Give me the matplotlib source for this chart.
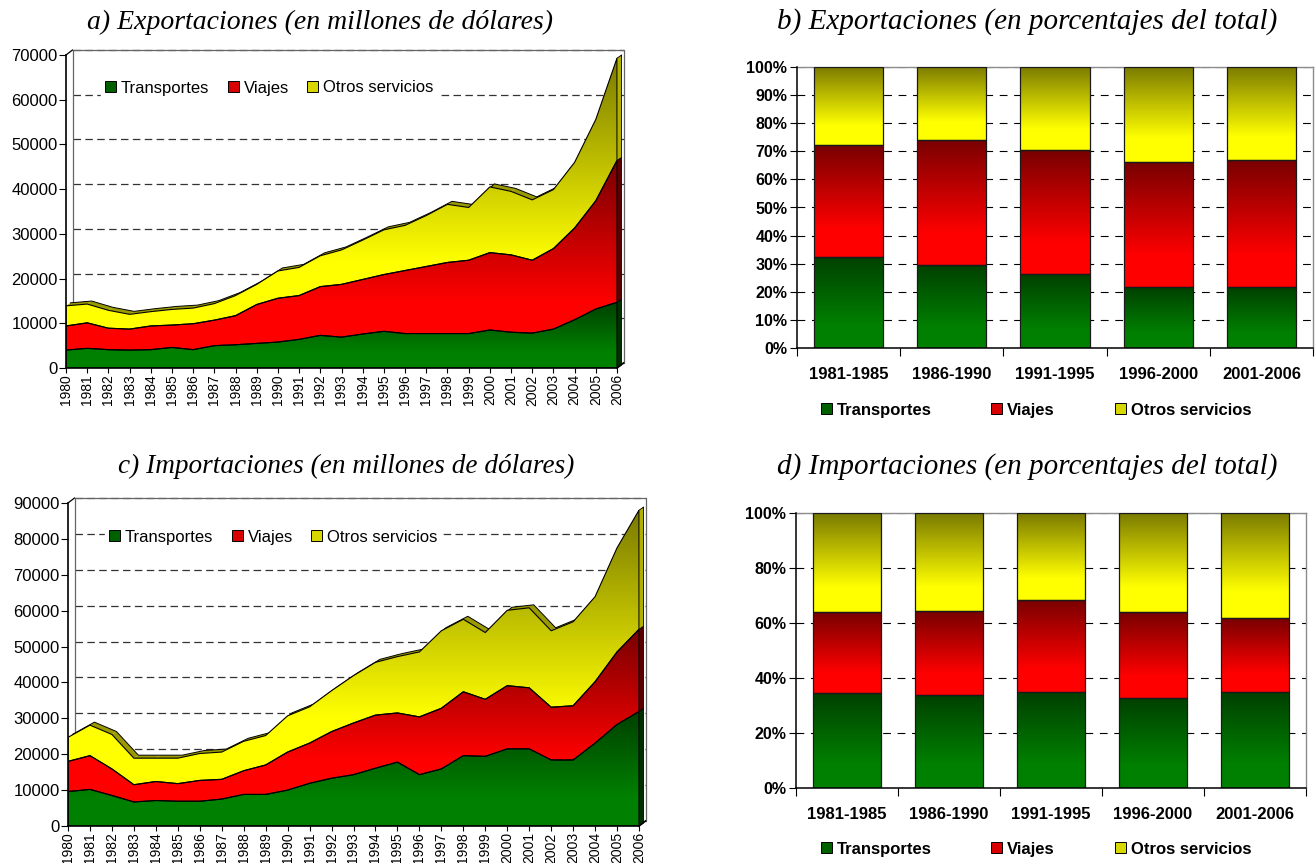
import numpy as np
import matplotlib
matplotlib.use('Agg')
import matplotlib.pyplot as plt
from matplotlib.colors import LinearSegmentedColormap
from matplotlib.patches import Polygon, Patch

plt.rcParams['font.family'] = ['Liberation Sans', 'DejaVu Sans']

# ---- datos ----
years = list(range(1980, 2007))

exp_transportes = [4000, 4400, 4100, 4000, 4100, 4600, 4100, 5000, 5200, 5500, 5800, 6400, 7300, 6900,
                   7600, 8200, 7700, 7700, 7700, 7700, 8500, 8000, 7800, 8700, 10800, 13200, 14700]
exp_viajes = [5400, 5700, 4800, 4700, 5300, 5000, 5800, 5700, 6500, 8700, 9800, 9800, 10900, 11800,
              12200, 12700, 14100, 15000, 15900, 16400, 17300, 17300, 16300, 18000, 20500, 24200, 31700]
exp_otros = [4500, 4200, 4000, 3300, 3200, 3500, 3500, 3700, 4500, 4500, 6100, 6300, 6900, 7700,
             8800, 10000, 10100, 11400, 13000, 11800, 14700, 14200, 13500, 13200, 14700, 18200, 22900]

imp_transportes = [9600, 10200, 8500, 6700, 7100, 6900, 6900, 7500, 8800, 8800, 10000, 11900, 13300, 14300,
                   16100, 17800, 14300, 15900, 19600, 19400, 21500, 21500, 18400, 18400, 23100, 28300, 31900]
imp_viajes = [8400, 9400, 7400, 4800, 5300, 4900, 5800, 5500, 6600, 8200, 10600, 11200, 13000, 14400,
              14800, 13700, 16100, 16900, 17800, 15900, 17600, 17000, 14700, 15100, 17100, 20200, 22900]
imp_otros = [6700, 8500, 9600, 7400, 6500, 7100, 7500, 7600, 8200, 8200, 10100, 10100, 11400, 13200,
             14700, 15700, 18100, 21600, 20200, 18600, 21000, 22300, 21300, 23400, 23700, 29000, 33200]

periodos = ['1981-1985', '1986-1990', '1991-1995', '1996-2000', '2001-2006']
exp_pct_transportes = [32.4, 29.4, 26.3, 21.7, 21.7]
exp_pct_viajes = [39.8, 44.5, 44.0, 44.4, 45.1]
exp_pct_otros = [27.8, 26.1, 29.7, 33.9, 33.2]
imp_pct_transportes = [34.7, 33.9, 34.9, 32.7, 34.9]
imp_pct_viajes = [29.4, 30.5, 33.6, 31.2, 26.9]
imp_pct_otros = [35.9, 35.6, 31.5, 36.1, 38.2]

series = ['Transportes', 'Viajes', 'Otros servicios']

# ---- estilos ----
W, H = 1315, 863
fig = plt.figure(figsize=(W / 100, H / 100), dpi=100)

cm_t = LinearSegmentedColormap.from_list('t', [(0, '#008000'), (0.25, '#008000'), (1, '#004000')])
cm_v = LinearSegmentedColormap.from_list('v', [(0, '#ff0000'), (0.25, '#ff0000'), (1, '#780000')])
cm_o = LinearSegmentedColormap.from_list('o', [(0, '#ffff00'), (0.25, '#ffff00'), (1, '#7a7a00')])
cmaps = [cm_t, cm_v, cm_o]
side_cols = ['#003000', '#5a0000', '#b0b000']
legend_cols = ['#006000', '#d80000', '#d8d800']
grad = np.linspace(0, 1, 256).reshape(-1, 1)


def px_axes(l, t, r, b):
    return fig.add_axes([l / W, 1 - b / H, (r - l) / W, (b - t) / H])


def title(x, y, s, size):
    fig.text(x / W, 1 - y / H, s, ha='center', va='center', family='Liberation Serif',
             style='italic', size=size)


def legend_handles():
    return [Patch(fc=c, ec='black', lw=0.7, label=s) for c, s in zip(legend_cols, series)]


def area_3d(ax, data, ymax, step, leg_xy):
    x = np.array(years, dtype=float)
    ax.set_xlim(x[0], x[-1])
    ax.set_ylim(0, ymax)
    bb = ax.get_window_extent()
    sx = (x[-1] - x[0]) / bb.width
    sy = ymax / bb.height
    wx, wy = 6.5 * sx, 5 * sy      # fondo del "3D"
    dx, dy = 4.5 * sx, 3 * sy      # profundidad de las areas

    # pared del fondo y rejilla
    for v in np.arange(step, ymax + 1, step):
        ax.plot([x[0] + wx, x[-1] + wx], [v + wy, v + wy], color='#333333', lw=0.9,
                ls=(0, (6, 3.5)), zorder=1, clip_on=False)
    ax.plot([x[0] + wx, x[0] + wx, x[-1] + wx, x[-1] + wx, x[0] + wx],
            [wy, ymax + wy, ymax + wy, wy, wy], color='#666666', lw=0.9, zorder=1, clip_on=False)
    ax.plot([x[0], x[0] + wx], [ymax, ymax + wy], color='black', lw=0.9, zorder=1, clip_on=False)
    ax.plot([x[-1], x[-1] + wx], [0, wy], color='black', lw=1.2, zorder=5, clip_on=False)

    lo = np.zeros(len(x))
    for vals, cm, sc in zip(data, cmaps, side_cols):
        hi = lo + np.array(vals)
        verts = np.column_stack([np.r_[x, x[::-1]], np.r_[hi, lo[::-1]]])
        poly = Polygon(verts, closed=True, fc='none', ec='black', lw=0.8, zorder=4)
        ax.add_patch(poly)
        im = ax.imshow(grad, cmap=cm, extent=[x[0], x[-1], lo.min(), hi.max()], origin='lower',
                       aspect='auto', zorder=3, interpolation='bilinear')
        im.set_clip_path(poly)
        side = Polygon([[x[-1], lo[-1]], [x[-1], hi[-1]], [x[-1] + dx, hi[-1] + dy], [x[-1] + dx, lo[-1] + dy]],
                       closed=True, fc=sc, ec='black', lw=0.6, zorder=2.5, clip_on=False)
        ax.add_patch(side)
        lo = hi

    # cara superior de la serie total
    for i in range(len(x) - 1):
        q = Polygon([[x[i], lo[i]], [x[i + 1], lo[i + 1]], [x[i + 1] + dx, lo[i + 1] + dy], [x[i] + dx, lo[i] + dy]],
                    closed=True, fc='#9a9a00', ec='none', zorder=2, clip_on=False)
        ax.add_patch(q)
    ax.plot(x + dx, lo + dy, color='black', lw=0.7, zorder=2.2, clip_on=False)

    ax.set_xlim(x[0], x[-1])
    ax.set_ylim(0, ymax)
    ax.set_yticks(np.arange(0, ymax + 1, step))
    ax.set_yticklabels([str(int(v)) for v in np.arange(0, ymax + 1, step)])
    ax.set_xticks(years)
    ax.set_xticklabels([str(y) for y in years], rotation=90)
    ax.tick_params(axis='y', direction='out', length=5, width=0.8, labelsize=12, pad=1)
    ax.tick_params(axis='x', direction='out', length=3.5, width=0.8, labelsize=10, pad=1)
    for s in ['top', 'right']:
        ax.spines[s].set_visible(False)
    for s in ['left', 'bottom']:
        ax.spines[s].set_linewidth(1.2)
        ax.spines[s].set_zorder(5)

    leg = ax.legend(handles=legend_handles(), ncol=3, loc='center left',
                    bbox_to_anchor=(leg_xy[0] / W, 1 - leg_xy[1] / H), bbox_transform=fig.transFigure,
                    fontsize=12, handlelength=0.65, handleheight=0.65, handletextpad=0.3,
                    columnspacing=1.1, borderpad=0.25, borderaxespad=0, frameon=True,
                    fancybox=False, framealpha=1, facecolor='white', edgecolor='white')
    leg.set_zorder(10)


def bars_pct(ax, data, step, leg_xy):
    idx = np.arange(len(periodos))
    ax.set_xlim(-0.5, len(periodos) - 0.5)
    ax.set_ylim(0, 100)
    bottom = np.zeros(len(periodos))
    for vals, cm in zip(data, cmaps):
        bc = ax.bar(idx, vals, 0.67, bottom=bottom, fc='none', ec='#1a1a1a', lw=0.9, zorder=4)
        for r in bc.patches:
            ax.imshow(grad, cmap=cm, extent=[r.get_x(), r.get_x() + r.get_width(), r.get_y(),
                                             r.get_y() + r.get_height()],
                      origin='lower', aspect='auto', zorder=3, interpolation='bilinear')
        bottom = bottom + np.array(vals)
    ax.set_xlim(-0.5, len(periodos) - 0.5)
    ax.set_ylim(0, 100)
    ax.set_yticks(np.arange(0, 101, step))
    ax.set_yticklabels(['%d%%' % v for v in np.arange(0, 101, step)], fontweight='bold')
    ax.yaxis.grid(True, ls=(0, (7, 6)), color='black', lw=0.8)
    ax.set_axisbelow(True)
    ax.set_xticks(idx)
    ax.set_xticklabels(periodos, fontweight='bold')
    ax.set_xticks(np.arange(-0.5, len(periodos)), minor=True)
    ax.tick_params(axis='x', which='major', length=0, labelsize=12, pad=14)
    ax.tick_params(axis='x', which='minor', length=6, width=0.8, direction='out')
    ax.tick_params(axis='y', length=5, width=0.8, direction='out', labelsize=11.5, pad=2)
    for s in ['top', 'right']:
        ax.spines[s].set_color('#8c8c8c')
        ax.spines[s].set_linewidth(1)
    for s in ['left', 'bottom']:
        ax.spines[s].set_linewidth(1.1)
        ax.spines[s].set_zorder(5)
    fig.legend(handles=legend_handles(), ncol=3, loc='center',
               bbox_to_anchor=(leg_xy[0] / W, 1 - leg_xy[1] / H), frameon=False,
               prop={'weight': 'bold', 'size': 12}, handlelength=0.65, handleheight=0.65,
               handletextpad=0.3, columnspacing=3.6)


ax_a = px_axes(66, 55, 617, 368)
area_3d(ax_a, [exp_transportes, exp_viajes, exp_otros], 70000, 10000, (101, 88))
title(320, 22, 'a) Exportaciones (en millones de dólares)', 20)

ax_b = px_axes(797, 67, 1313, 348)
bars_pct(ax_b, [exp_pct_transportes, exp_pct_viajes, exp_pct_otros], 10, (1036, 410))
title(1027, 22, 'b) Exportaciones (en porcentajes del total)', 21)

ax_c = px_axes(68, 503, 639, 826)
area_3d(ax_c, [imp_transportes, imp_viajes, imp_otros], 90000, 10000, (105, 537))
title(346, 466, 'c) Importaciones (en millones de dólares)', 19.6)

ax_d = px_axes(796, 513, 1306, 788)
bars_pct(ax_d, [imp_pct_transportes, imp_pct_viajes, imp_pct_otros], 20, (1036, 849))
title(1027, 467, 'd) Importaciones (en porcentajes del total)', 21)

fig.savefig('out.png', dpi=100)
